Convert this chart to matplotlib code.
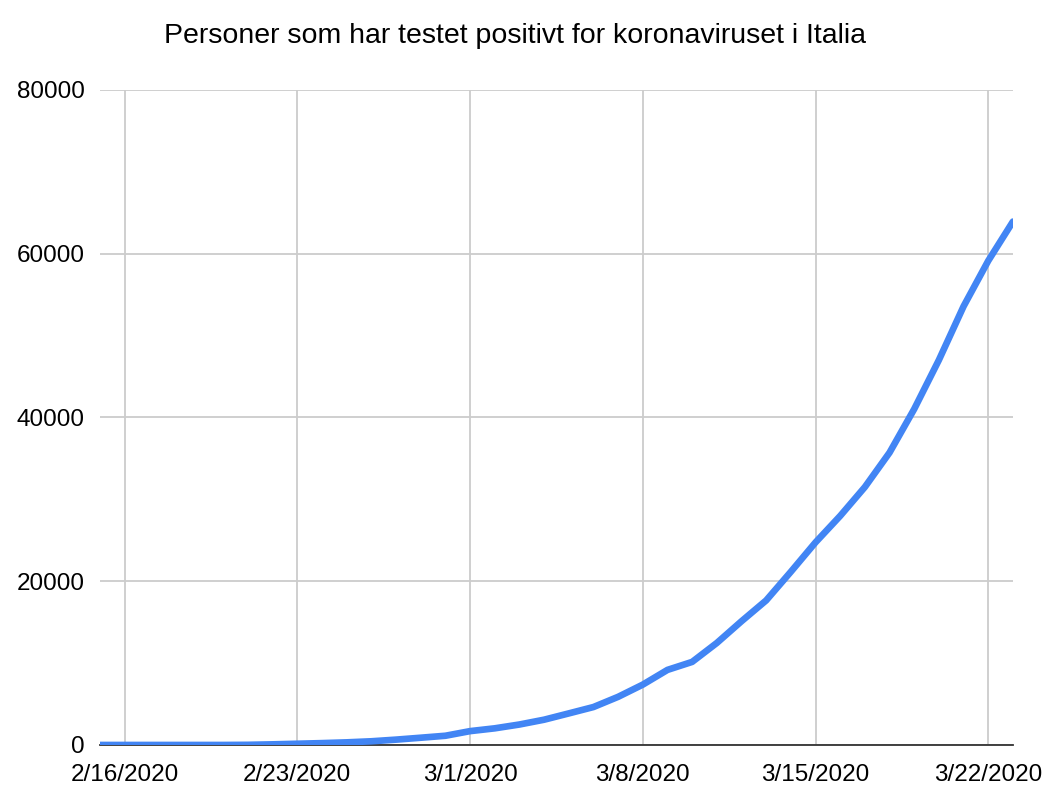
import numpy as np
import pandas as pd
import matplotlib
matplotlib.use("Agg")
import matplotlib.pyplot as plt

plt.rcParams['font.family'] = ['Liberation Sans', 'DejaVu Sans']

# total positive cases in Italy, one value per day
dates = pd.date_range('2020-02-15', '2020-03-23', freq='D')
cases = [3, 3, 3, 3, 3, 3, 20, 79, 152, 229, 322, 453, 655, 888, 1128,
         1694, 2036, 2502, 3089, 3858, 4636, 5883, 7375, 9172, 10149,
         12462, 15113, 17660, 21157, 24747, 27980, 31506, 35713, 41035,
         47021, 53578, 59138, 63927]
tick_dates = pd.to_datetime(['2020-02-16', '2020-02-23', '2020-03-01',
                             '2020-03-08', '2020-03-15', '2020-03-22'])
tick_labels = ['2/16/2020', '2/23/2020', '3/1/2020', '3/8/2020',
               '3/15/2020', '3/22/2020']
y_ticks = [0, 20000, 40000, 60000, 80000]

fig = plt.figure(figsize=(10.49, 7.95), dpi=100)
ax = fig.add_axes([0.0953, 0.0629, 0.8703, 0.8239])

ax.plot(dates, cases, color='#4285F4', lw=4.8, solid_capstyle='round',
        solid_joinstyle='round', zorder=3)

ax.set_xlim(dates[0], dates[-1])
ax.set_ylim(0, 80000)
ax.set_xticks(tick_dates)
ax.set_xticklabels(tick_labels)
ax.set_yticks(y_ticks)
ax.set_yticklabels([str(v) for v in y_ticks])

ax.grid(True, color='#cccccc', lw=1.3)
ax.set_axisbelow(True)
for s in ['top', 'right', 'left']:
    ax.spines[s].set_visible(False)
ax.spines['bottom'].set_color('#333333')
ax.spines['bottom'].set_linewidth(1.3)
ax.tick_params(length=0, labelsize=17.5, colors='black')
ax.tick_params(axis='y', pad=11)
ax.tick_params(axis='x', pad=14)

fig.text(0.491, 0.955, 'Personer som har testet positivt for koronaviruset i Italia',
         ha='center', va='center', fontsize=20.5)

fig.savefig('out.png', dpi=100)
